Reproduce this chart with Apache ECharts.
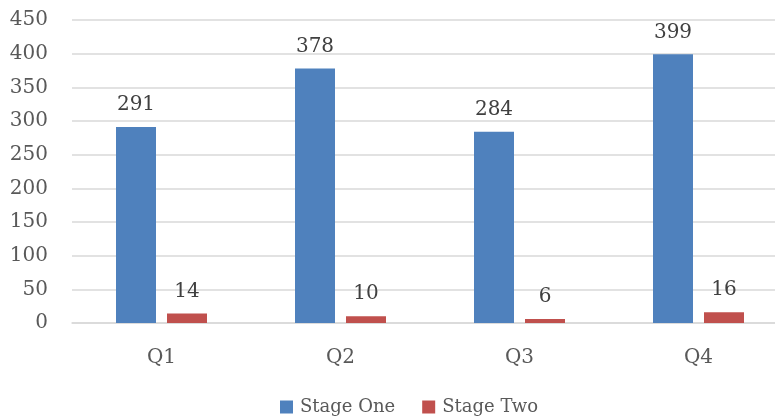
<!DOCTYPE html>
<html>
<head>
<meta charset="utf-8">
<script src="https://cdn.jsdelivr.net/npm/echarts@6/dist/echarts.min.js"></script>
<style>html,body{margin:0;padding:0;background:#fff;overflow:hidden;width:775px;height:418px;}#c{width:800px;height:418px;}</style>
</head>
<body>
<div id="c"></div>
<script>
const categories = ['Q1', 'Q2', 'Q3', 'Q4'];
const stageOne = [291, 378, 284, 399];
const stageTwo = [14, 10, 6, 16];
const yTicks = { min: 0, max: 450, interval: 50 };

const font = 'DejaVu Serif';
const chart = echarts.init(document.getElementById('c'), null, { renderer: 'canvas' });
chart.setOption({
  animation: false,
  backgroundColor: '#ffffff',
  grid: { left: 72, top: 20, bottom: 95, width: 716, containLabel: false },
  legend: {
    left: 275, top: 393,
    itemWidth: 13, itemHeight: 13, itemGap: 27,
    icon: 'rect',
    textStyle: { fontFamily: font, fontSize: 18, color: '#595959', padding: [0, 0, 0, 2] },
    data: ['Stage One', 'Stage Two']
  },
  xAxis: {
    type: 'category',
    data: categories,
    axisTick: { show: false },
    axisLine: { lineStyle: { color: '#d9d9d9', width: 1.5 } },
    axisLabel: { fontFamily: font, fontSize: 20, color: '#595959', margin: 25 }
  },
  yAxis: {
    type: 'value',
    min: yTicks.min, max: yTicks.max, interval: yTicks.interval,
    axisLine: { show: false },
    axisTick: { show: false },
    splitLine: { lineStyle: { color: '#d9d9d9', width: 1.5 } },
    axisLabel: { fontFamily: font, fontSize: 20, color: '#595959', margin: 24 }
  },
  series: [
    {
      name: 'Stage One', type: 'bar', data: stageOne,
      barWidth: 40, barGap: '27.5%',
      itemStyle: { color: '#4F81BD' },
      label: { show: true, position: 'top', distance: 12, fontFamily: font, fontSize: 20, color: '#404040' }
    },
    {
      name: 'Stage Two', type: 'bar', data: stageTwo,
      barWidth: 40,
      itemStyle: { color: '#C0504D' },
      label: { show: true, position: 'top', distance: 12, fontFamily: font, fontSize: 20, color: '#404040' }
    }
  ]
});
</script>
</body>
</html>
